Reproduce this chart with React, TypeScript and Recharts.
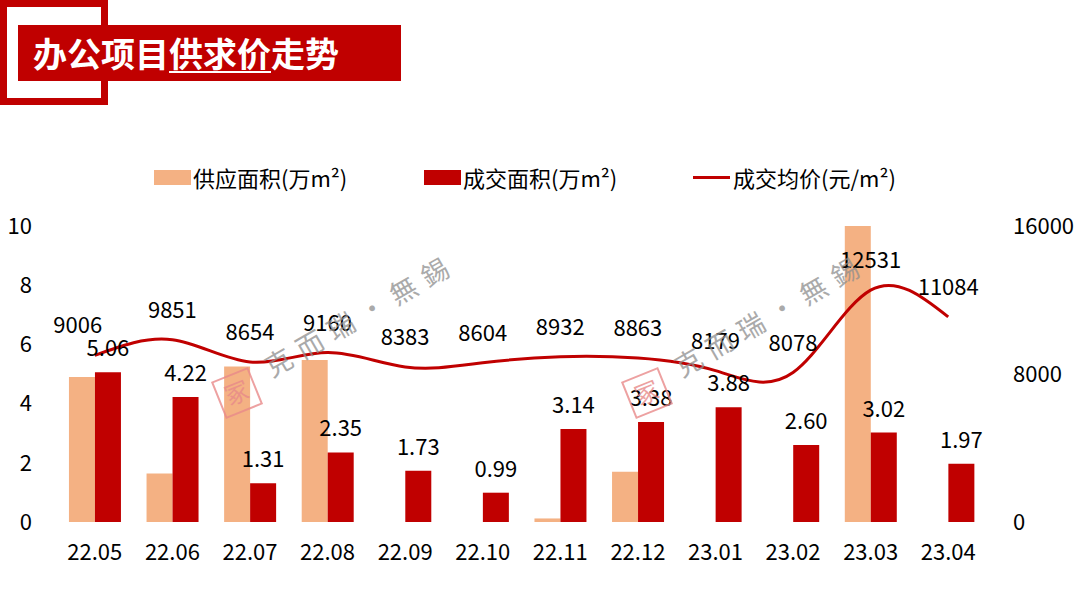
import React from 'react';
import {
  ComposedChart,
  Bar,
  Line,
  XAxis,
  YAxis,
  LabelList,
} from 'recharts';

const months = ['22.05', '22.06', '22.07', '22.08', '22.09', '22.10', '22.11', '22.12', '23.01', '23.02', '23.03', '23.04'];
const supplyArea = [4.9, 1.64, 5.25, 5.47, 0, 0, 0.12, 1.7, 0, 0, 10, 0];
const dealArea = [5.06, 4.22, 1.31, 2.35, 1.73, 0.99, 3.14, 3.38, 3.88, 2.6, 3.02, 1.97];
const avgPrice = [9006, 9851, 8654, 9160, 8383, 8604, 8932, 8863, 8179, 8078, 12531, 11084];
const leftTicks = [0, 2, 4, 6, 8, 10];
const rightTicks = [0, 8000, 16000];

const SUPPLY = '#F4B183';
const DEAL = '#C00000';
const FONT = '"Noto Sans CJK SC", "Noto Sans", sans-serif';

const data = months.map((m, i) => ({
  month: m,
  supply: supplyArea[i],
  deal: dealArea[i],
  price: avgPrice[i],
}));

const legendItems = [
  { label: '供应面积(万m²)', color: SUPPLY, kind: 'rect', left: 154 },
  { label: '成交面积(万m²)', color: DEAL, kind: 'rect', left: 424 },
  { label: '成交均价(元/m²)', color: DEAL, kind: 'line', left: 693 },
];

const PriceLabel = (props: any) => {
  const { x, y, value, index } = props;
  return (
    <text
      x={x + (index === 0 ? -17 : 0)}
      y={y - 22}
      textAnchor="middle"
      fontSize={22}
      fontFamily={FONT}
      fill="#000"
    >
      {value}
    </text>
  );
};

function Watermark({ dx }: { dx: number }) {
  return (
    <g transform={`translate(${dx},0)`}>
      <g transform="translate(237,393) rotate(-22)">
        <rect x={-19} y={-19} width={38} height={38} fill="none" stroke="#E88A8A" strokeWidth={2} opacity={0.8} />
        <text x={0} y={9} textAnchor="middle" fontSize={24} fontFamily={FONT} fill="#E88A8A" opacity={0.8}>
          冢
        </text>
      </g>
      <text
        transform="translate(272,378) rotate(-30)"
        fontSize={27}
        fontFamily={FONT}
        fill="#8E8E8E"
        opacity={0.75}
        letterSpacing={9}
      >
        克而瑞·無錫
      </text>
    </g>
  );
}

export default function App() {
  return (
    <div style={{ position: 'absolute', left: 0, top: 0, width: 1080, height: 600, background: '#fff', fontFamily: FONT }}>
      {/* title block */}
      <div style={{ position: 'absolute', left: 0, top: 0, width: 108, height: 105, border: `7px solid ${DEAL}`, boxSizing: 'border-box' }} />
      <div
        style={{
          position: 'absolute',
          left: 18,
          top: 25,
          width: 383,
          height: 56,
          background: DEAL,
          color: '#fff',
          fontSize: 34,
          fontWeight: 700,
          lineHeight: '56px',
          paddingLeft: 15,
          boxSizing: 'border-box',
          whiteSpace: 'nowrap',
        }}
      >
        办公项目<span style={{ textDecoration: 'underline', textUnderlineOffset: 4, textDecorationThickness: 2 }}>供求价</span>走势
      </div>

      {/* legend */}
      {legendItems.map((it) => (
        <div
          key={it.label}
          style={{ position: 'absolute', left: it.left, top: 163, height: 28, display: 'flex', alignItems: 'center', fontSize: 22, color: '#000', whiteSpace: 'nowrap' }}
        >
          {it.kind === 'rect' ? (
            <span style={{ display: 'inline-block', width: 37, height: 15, background: it.color, marginRight: 2 }} />
          ) : (
            <span style={{ display: 'inline-block', width: 37, height: 3, background: it.color, marginRight: 3 }} />
          )}
          {it.label}
        </div>
      ))}

      <div style={{ position: 'absolute', left: 0, top: 0 }}>
        <ComposedChart
          width={1080}
          height={600}
          data={data}
          margin={{ top: 226, right: 0, bottom: 0, left: 0 }}
          barCategoryGap="16.7%"
          barGap={0}
        >
          <XAxis
            dataKey="month"
            height={78}
            axisLine={false}
            tickLine={false}
            tickMargin={16}
            tick={{ fontSize: 22, fill: '#000', fontFamily: FONT }}
            interval={0}
          />
          <YAxis
            yAxisId="left"
            width={56}
            domain={[0, 10]}
            ticks={leftTicks}
            allowDataOverflow
            axisLine={false}
            tickLine={false}
            tickMargin={18}
            tick={{ fontSize: 22, fill: '#000', fontFamily: FONT }}
          />
          <YAxis
            yAxisId="right"
            orientation="right"
            width={93}
            domain={[0, 16000]}
            ticks={rightTicks}
            axisLine={false}
            tickLine={false}
            tickMargin={20}
            tick={{ fontSize: 22, fill: '#000', fontFamily: FONT, textAnchor: 'start' }}
          />
          <Bar yAxisId="left" dataKey="supply" fill={SUPPLY} isAnimationActive={false} />
          <Bar yAxisId="left" dataKey="deal" fill={DEAL} isAnimationActive={false}>
            <LabelList
              dataKey="deal"
              position="top"
              offset={16}
              formatter={(v: any) => Number(v).toFixed(2)}
              style={{ fontSize: 22, fill: '#000', fontFamily: FONT }}
            />
          </Bar>
          <Line
            yAxisId="right"
            type="natural"
            dataKey="price"
            stroke={DEAL}
            strokeWidth={3}
            dot={false}
            activeDot={false}
            isAnimationActive={false}
          >
            <LabelList dataKey="price" content={<PriceLabel />} />
          </Line>
        </ComposedChart>
      </div>

      {/* watermarks */}
      <svg width={1080} height={600} style={{ position: 'absolute', left: 0, top: 0, pointerEvents: 'none' }}>
        <Watermark dx={0} />
        <Watermark dx={410} />
      </svg>
    </div>
  );
}
